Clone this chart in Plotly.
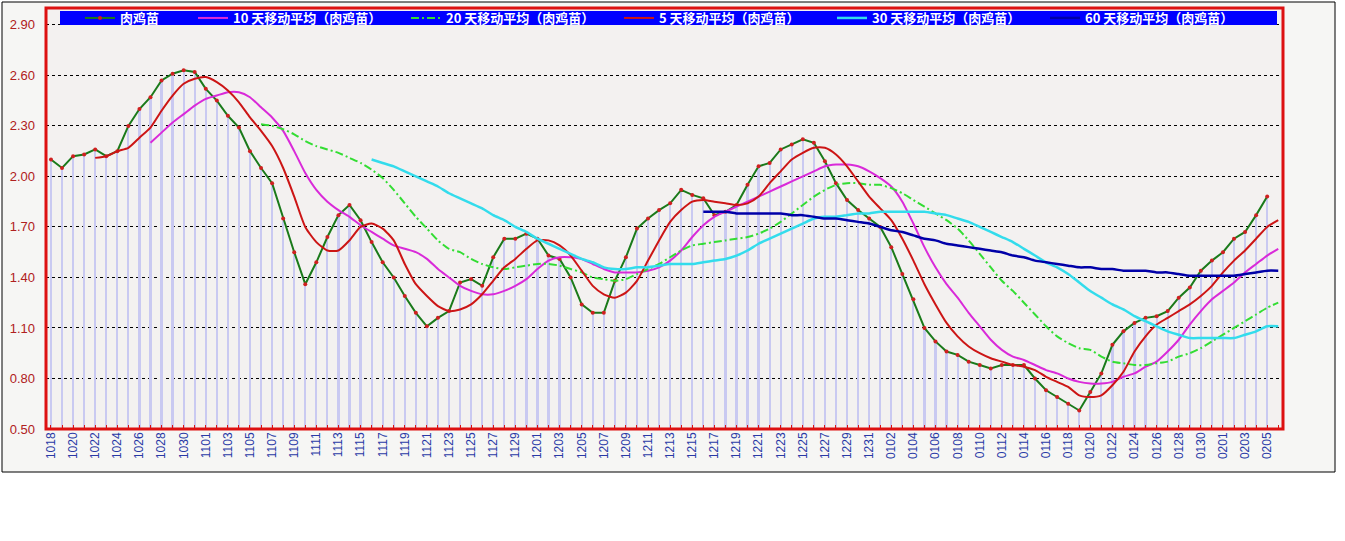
import pandas as pd
import plotly.graph_objects as go

# ---------------- data ----------------
dates = list(pd.date_range("2021-10-18", "2022-02-06").strftime("%m%d"))  # 1018 ... 0206

raw = [2.10, 2.05, 2.12, 2.13, 2.16, 2.12, 2.15, 2.30, 2.40, 2.47,
       2.57, 2.61, 2.63, 2.62, 2.52, 2.45, 2.36, 2.29, 2.15, 2.05,
       1.96, 1.75, 1.55, 1.36, 1.49, 1.64, 1.77, 1.83, 1.74, 1.61,
       1.49, 1.40, 1.29, 1.19, 1.11, 1.16, 1.20, 1.37, 1.39, 1.35,
       1.52, 1.63, 1.63, 1.66, 1.63, 1.53, 1.51, 1.40, 1.24, 1.19,
       1.19, 1.38, 1.52, 1.69, 1.75, 1.80, 1.84, 1.92, 1.89, 1.87,
       1.77, 1.79, 1.83, 1.95, 2.06, 2.08, 2.16, 2.19, 2.22, 2.20,
       2.09, 1.96, 1.86, 1.80, 1.75, 1.70, 1.58, 1.42, 1.27, 1.10,
       1.02, 0.96, 0.94, 0.90, 0.88, 0.86, 0.88, 0.88, 0.88, 0.80,
       0.73, 0.69, 0.65, 0.61, 0.72, 0.83, 1.00, 1.08, 1.13, 1.16,
       1.17, 1.20, 1.28, 1.34, 1.44, 1.50, 1.55, 1.63, 1.67, 1.77,
       1.88]

ma5 = [2.11, 2.12, 2.15, 2.17, 2.23, 2.29, 2.39, 2.48, 2.55, 2.58,
       2.59, 2.56, 2.51, 2.44, 2.35, 2.27, 2.18, 2.05, 1.88, 1.70,
       1.61, 1.56, 1.56, 1.62, 1.70, 1.72, 1.69, 1.62, 1.48, 1.36,
       1.29, 1.23, 1.20, 1.21, 1.24, 1.30, 1.38, 1.46, 1.51, 1.57,
       1.62, 1.62, 1.59, 1.53, 1.44, 1.35, 1.30, 1.28, 1.31, 1.38,
       1.50, 1.62, 1.73, 1.80, 1.85, 1.86, 1.85, 1.84, 1.83, 1.84,
       1.88, 1.96, 2.03, 2.10, 2.14, 2.17, 2.17, 2.13, 2.06, 1.97,
       1.88, 1.81, 1.74, 1.63, 1.50, 1.36, 1.24, 1.13, 1.05, 0.99,
       0.95, 0.92, 0.90, 0.88, 0.87, 0.85, 0.81, 0.78, 0.75, 0.70,
       0.69, 0.70, 0.76, 0.84, 0.96, 1.05, 1.12, 1.16, 1.20, 1.24,
       1.29, 1.35, 1.43, 1.50, 1.56, 1.63, 1.70, 1.74]

ma10 = [2.20,
        2.26, 2.32, 2.37, 2.42, 2.46, 2.48, 2.50, 2.50, 2.47, 2.41,
        2.35, 2.27, 2.15, 2.02, 1.92, 1.85, 1.80, 1.76, 1.71, 1.67,
        1.63, 1.59, 1.57, 1.55, 1.51, 1.45, 1.40, 1.35, 1.32, 1.30,
        1.30, 1.32, 1.35, 1.39, 1.45, 1.50, 1.52, 1.52, 1.51, 1.48,
        1.45, 1.43, 1.43, 1.43, 1.44, 1.46, 1.50, 1.56, 1.64, 1.71,
        1.76, 1.79, 1.82, 1.85, 1.88, 1.91, 1.94, 1.97, 2.00, 2.03,
        2.06, 2.07, 2.07, 2.06, 2.03, 1.99, 1.94, 1.85, 1.72, 1.58,
        1.46, 1.36, 1.28, 1.19, 1.11, 1.03, 0.97, 0.93, 0.91, 0.88,
        0.85, 0.83, 0.80, 0.78, 0.77, 0.77, 0.78, 0.81, 0.83, 0.87,
        0.90, 0.96, 1.03, 1.12, 1.20, 1.27, 1.32, 1.37, 1.43, 1.48,
        1.53, 1.57]

ma20 = [2.31,
        2.30, 2.28, 2.25, 2.21, 2.18, 2.16, 2.14, 2.11, 2.08, 2.04,
        1.99, 1.92, 1.84, 1.76, 1.69, 1.62, 1.57, 1.55, 1.51, 1.48,
        1.46, 1.45, 1.46, 1.47, 1.48, 1.48, 1.47, 1.45, 1.43, 1.40,
        1.39, 1.38, 1.39, 1.42, 1.45, 1.48, 1.52, 1.56, 1.59, 1.60,
        1.61, 1.62, 1.63, 1.64, 1.66, 1.69, 1.73, 1.78, 1.83, 1.88,
        1.92, 1.95, 1.96, 1.96, 1.95, 1.95, 1.93, 1.90, 1.86, 1.82,
        1.78, 1.74, 1.69, 1.62, 1.54, 1.46, 1.38, 1.32, 1.25, 1.18,
        1.11, 1.05, 1.01, 0.98, 0.97, 0.93, 0.90, 0.89, 0.88, 0.88,
        0.89, 0.90, 0.93, 0.95, 0.98, 1.02, 1.06, 1.10, 1.14, 1.18,
        1.22, 1.25]

ma30 = [2.10,
        2.08, 2.06, 2.03, 2.00, 1.97, 1.94, 1.90, 1.87, 1.84, 1.81,
        1.77, 1.74, 1.70, 1.67, 1.63, 1.60, 1.57, 1.54, 1.51, 1.49,
        1.46, 1.45, 1.45, 1.46, 1.46, 1.47, 1.48, 1.48, 1.48, 1.49,
        1.50, 1.51, 1.53, 1.56, 1.60, 1.63, 1.66, 1.69, 1.72, 1.75,
        1.76, 1.76, 1.77, 1.78, 1.78, 1.79, 1.79, 1.79, 1.79, 1.79,
        1.78, 1.77, 1.75, 1.73, 1.70, 1.67, 1.64, 1.61, 1.57, 1.53,
        1.49, 1.46, 1.42, 1.37, 1.32, 1.28, 1.24, 1.21, 1.17, 1.14,
        1.11, 1.08, 1.06, 1.04, 1.04, 1.04, 1.04, 1.04, 1.06, 1.08,
        1.11, 1.11]

ma60 = [1.79,
        1.79, 1.79, 1.78, 1.78, 1.78, 1.78, 1.78, 1.77, 1.77, 1.76,
        1.75, 1.75, 1.74, 1.73, 1.72, 1.70, 1.68, 1.67, 1.65, 1.63,
        1.62, 1.60, 1.59, 1.58, 1.57, 1.56, 1.55, 1.53, 1.52, 1.50,
        1.49, 1.48, 1.47, 1.46, 1.46, 1.45, 1.45, 1.44, 1.44, 1.44,
        1.43, 1.43, 1.42, 1.41, 1.41, 1.41, 1.41, 1.41, 1.42, 1.43,
        1.44, 1.44]

y_ticks = [0.5, 0.8, 1.1, 1.4, 1.7, 2.0, 2.3, 2.6, 2.9]
y_tick_text = ["0.50", "0.80", "1.10", "1.40", "1.70", "2.00", "2.30", "2.60", "2.90"]
x_tick_text = [d if i % 2 == 0 else "" for i, d in enumerate(dates)]

name_raw = "肉鸡苗"
names = {5: "5 天移动平均（肉鸡苗）", 10: "10 天移动平均（肉鸡苗）", 20: "20 天移动平均（肉鸡苗）",
         30: "30 天移动平均（肉鸡苗）", 60: "60 天移动平均（肉鸡苗）"}

# ---------------- layout geometry (pixels) ----------------
W, H = 1345, 541
L, R, T, B = 46, 1283, 8, 429


def xp(p):
    return (p - L) / (R - L)


def yp(p):
    return (B - p) / (B - T)


fig = go.Figure()

fig.add_trace(go.Bar(x=dates[:len(raw)], y=raw, width=0.2, marker=dict(color="#c9c9f1", line_width=0),
                     showlegend=False, hoverinfo="skip"))

fig.add_trace(go.Scatter(x=dates[:len(raw)], y=raw, name=name_raw, mode="lines+markers",
                         line=dict(color="#1a7a1a", width=2),
                         marker=dict(color="#d02020", size=4), legend="legend"))


def ma_trace(vals, n, color, width=2, dash="solid"):
    start = len(dates) - len(vals)
    return go.Scatter(x=dates[start:], y=vals, name=names[n], mode="lines",
                      line=dict(color=color, width=width, dash=dash, shape="spline", smoothing=0.6),
                      legend="legend2")


fig.add_trace(ma_trace(ma10, 10, "#d92ad9"))
fig.add_trace(ma_trace(ma20, 20, "#33dd33", dash="8px,3px,2px,3px"))
fig.add_trace(ma_trace(ma5, 5, "#cc1515"))
fig.add_trace(ma_trace(ma30, 30, "#33dcec", width=2.5))
fig.add_trace(ma_trace(ma60, 60, "#0000a8", width=2.5))

legend_font = dict(color="white", size=13, family="Noto Sans CJK SC", weight="bold")

fig.update_layout(
    width=W, height=H,
    margin=dict(l=L, r=W - R, t=T, b=H - B, autoexpand=False),
    paper_bgcolor="white",
    plot_bgcolor="#f3f1f0",
    bargap=0,
    legend=dict(x=xp(80), y=yp(18), xanchor="left", yanchor="middle", orientation="h",
                bgcolor="rgba(0,0,0,0)", font=legend_font, borderwidth=0),
    legend2=dict(x=xp(193), y=yp(18), xanchor="left", yanchor="middle", orientation="h",
                 bgcolor="rgba(0,0,0,0)", font=legend_font, borderwidth=0,
                 entrywidth=168, entrywidthmode="pixels"),
    xaxis=dict(type="category", range=[-0.45, len(dates) - 1 + 0.43],
               tickmode="array", tickvals=dates, ticktext=x_tick_text,
               tickangle=-90, ticks="inside", ticklen=4, tickwidth=1, tickcolor="#dd1111",
               tickfont=dict(family="Liberation Sans", size=12, color="#2a3aa6"),
               showgrid=False, zeroline=False, showline=False),
    yaxis=dict(range=[0.5, 3.0], tickmode="array", tickvals=y_ticks, ticktext=y_tick_text,
               showgrid=True, gridcolor="black", gridwidth=1, griddash="3px,3px",
               tickfont=dict(family="Liberation Sans", size=13, color="#b02020"),
               ticks="", ticklabelstandoff=10, zeroline=False, showline=False),
    shapes=[
        dict(type="rect", xref="paper", yref="paper", x0=xp(2), x1=xp(1335), y0=yp(472), y1=yp(2),
             fillcolor="#f6f6f4", line=dict(color="black", width=1), layer="below"),
        dict(type="rect", xref="paper", yref="paper", x0=0, x1=1, y0=0, y1=1,
             fillcolor="#f3f1f0", line=dict(width=0), layer="below"),
        dict(type="rect", xref="paper", yref="paper", x0=xp(60), x1=xp(1277), y0=yp(25), y1=yp(11),
             fillcolor="#0000ff", line=dict(width=0), layer="above"),
        dict(type="rect", xref="paper", yref="paper", x0=0, x1=1, y0=0, y1=1,
             fillcolor="rgba(0,0,0,0)", line=dict(color="#dd1111", width=3), layer="above"),
    ],
)

fig.write_html("out.html", config={"displayModeBar": False},
               post_script="document.body.style.margin='0';")
